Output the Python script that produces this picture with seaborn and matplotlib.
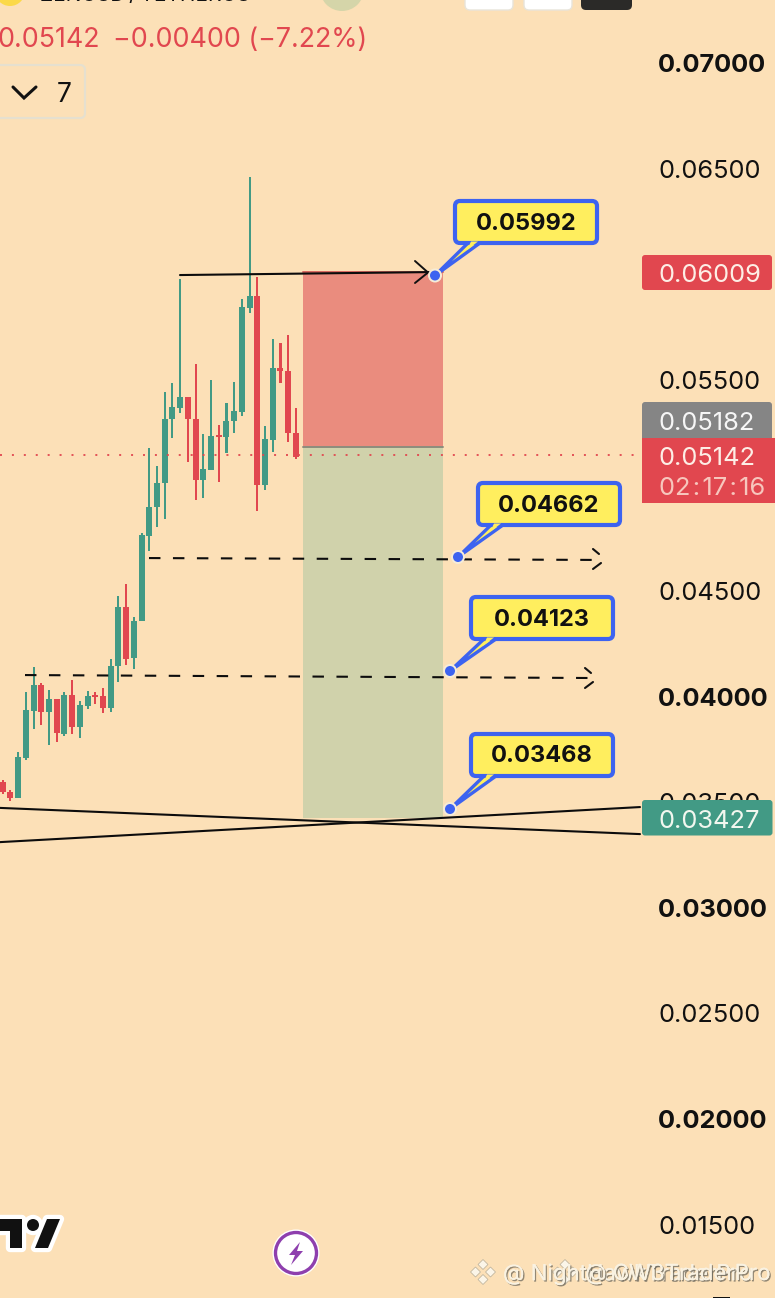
import numpy as np
import pandas as pd
import matplotlib
matplotlib.use("Agg")
import matplotlib.pyplot as plt
import matplotlib.patheffects as pe
from matplotlib.patches import Rectangle, FancyBboxPatch, Polygon, Circle
import seaborn as sns

# ---------- data (prices) ----------
highs = [.03605,.03558,.03739,.04020,.04139,.04063,.04030,.03989,.04020,.04077,.03979,.04025,.04023,.04039,.04178,.04478,.04535,.04378,.04776,
         .05176,.05092,.05441,.05483,.05976,.05419,.05576,.05243,.05498,.05285,.05390,.05490,.05883,.06462,.05988,.05281,.05693,.05674,.05714,.05366]
tops  = [.03597,.03547,.03713,.03937,.04054,.04054,.03989,.03989,.04006,.04006,.03960,.04003,.04006,.04003,.04145,.04424,.04424,.04358,.04764,
         .04896,.05011,.05316,.05370,.05419,.05419,.05316,.05078,.05234,.05237,.05306,.05351,.05845,.05897,.05897,.05218,.05556,.05556,.05543,.05247]
bots  = [.03547,.03518,.03518,.03708,.03933,.03927,.03927,.03828,.03822,.03856,.03856,.03955,.03997,.03945,.03945,.04145,.04178,.04181,.04357,
         .04760,.04896,.05011,.05316,.05366,.05314,.05026,.05026,.05074,.05228,.05228,.05306,.05348,.05840,.05002,.05002,.05215,.05540,.05248,.05136]
lows  = [.03537,.03506,.03518,.03701,.03847,.03866,.03771,.03786,.03813,.03823,.03804,.03940,.03966,.03922,.03929,.04071,.04150,.04132,.04357,
         .04689,.04804,.04842,.05224,.05341,.05111,.04931,.04942,.05074,.05018,.05152,.05250,.05330,.05816,.04880,.04980,.05157,.05483,.05207,.05126]
is_up = [0,0,1,1,1,0,1,0,1,0,1,1,0,0,1,1,0,1,1,
         1,1,1,1,1,0,0,1,1,0,1,1,1,1,0,1,1,0,0,0]

axis_ticks = [.070,.065,.060,.055,.050,.045,.040,.035,.030,.025,.020,.015]
hidden_ticks = [.060,.050]
bold_ticks = [.070,.040,.030,.020]

last_price = 0.05142
stop_price = 0.06009
entry_price = 0.05182
target_price = 0.03427
reward_floor = 0.03425
callout_values = ["0.05992","0.04662","0.04123","0.03468"]

swing_line = dict(px=[180,430], price=[.05996,.06010])
dash_line_a = dict(px=[149,600], price=[.04656,.04647])
dash_line_b = dict(px=[25,592], price=[.04102,.04088])
trend_a = dict(px=[0,640], price=[.03473,.03349])
trend_b = dict(px=[0,640], price=[.03311,.03477])

# ---------- palette ----------
BG = "#fce0b7"; RED = "#e1474f"; GREEN = "#429a85"; GREY = "#858585"
BLUE = "#3d63f0"; YELLOW = "#ffee5e"; INK = "#111111"
RISK = "#ea8c7e"; REWARD = "#d0d2ab"
FS = 18.3

sns.set_theme(style="white")
plt.rcParams["font.family"] = ["Inter", "DejaVu Sans"]

W, H = 775, 1298
fig = plt.figure(figsize=(W/100, H/100), dpi=100, facecolor=BG)
ax = fig.add_axes([0, 0, 1, 1], facecolor=BG)

# px <-> data mapping of the price scale and bar index
PX0, PXSTEP = 2.7, 7.716
to_i = lambda px: (np.asarray(px, float) - PX0) / PXSTEP
PY70, PYPER = 63.0, 21120.0
to_price = lambda py: 0.07 - (py - PY70) / PYPER

df = pd.DataFrame(dict(i=np.arange(len(highs)), high=highs, top=tops, bot=bots, low=lows, up=is_up))
for up, color in [(1, GREEN), (0, RED)]:
    s = df[df.up == up]
    sns.barplot(x=s.i.values, y=(s.high - s.low).values, bottom=s.low.values, native_scale=True,
                color=color, saturation=1, width=0.27, errorbar=None, linewidth=0, ax=ax, zorder=3)
    sns.barplot(x=s.i.values, y=(s.top - s.bot).values, bottom=s.bot.values, native_scale=True,
                color=color, saturation=1, width=0.78, errorbar=None, linewidth=0, ax=ax, zorder=3)

# position tool
x0, x1 = to_i(303), to_i(443)
ax.add_patch(Rectangle((x0, entry_price), x1-x0, stop_price-entry_price, fc=RISK, ec="none", zorder=1))
ax.add_patch(Rectangle((x0, reward_floor), x1-x0, entry_price-reward_floor, fc=REWARD, ec="none", zorder=1))
ax.plot([x0, x1], [entry_price]*2, color="#8d8d7c", lw=1.4, zorder=2)
ax.plot([x0, x1], [stop_price]*2, color="#d9675f", lw=1.4, zorder=2)

# last price line
ax.plot(to_i([0, 642]), [last_price]*2, color=RED, lw=1.3, ls=(0, (1.1, 5.5)), zorder=4)

# drawn lines
for ln, style in [(swing_line, "-"), (trend_a, "-"), (trend_b, "-"),
                  (dash_line_a, (0, (5.5, 6))), (dash_line_b, (0, (5.5, 6)))]:
    sns.lineplot(x=to_i(ln["px"]), y=ln["price"], color="#0c0c0c", lw=1.5, linestyle=style,
                 estimator=None, sort=False, errorbar=None, ax=ax, zorder=5)

ax.set_xlim(to_i(0), to_i(W))
ax.set_ylim(to_price(H), to_price(0))
ax.set_xticks([])
ax.set_xlabel(""); ax.set_ylabel("")
for sp in ax.spines.values():
    sp.set_visible(False)
ax.yaxis.tick_right()
vis = [t for t in axis_ticks if t not in hidden_ticks]
ax.set_yticks(vis)
ax.set_yticklabels([f"{t:.5f}" for t in vis])
ax.tick_params(axis="y", length=0, pad=-84, labelsize=FS, labelcolor=INK)
for lab, t in zip(ax.get_yticklabels(), vis):
    lab.set_ha("left")
    if t in bold_ticks:
        lab.set_fontweight("bold")

# ---------- overlay in screen pixels: app chrome, badges, callouts ----------
ov = fig.add_axes([0, 0, 1, 1], facecolor="none")
ov.set_xlim(0, W); ov.set_ylim(H, 0); ov.axis("off")

def badge(x0, y0, x1, y1, color, round_=3):
    ov.add_patch(FancyBboxPatch((x0+round_, y0+round_), x1-x0-2*round_, y1-y0-2*round_,
                                boxstyle=f"round,pad={round_},rounding_size={round_}", fc=color, ec="none", zorder=3))

TX = 659
badge(642, 255, 772, 290, RED)
ov.text(TX, 273, f"{0.06009:.5f}", color="#fdeee6", fontsize=FS, va="center_baseline", zorder=4)
badge(642, 402, 772, 442, GREY)
ov.text(TX, 421, f"{entry_price:.5f}", color="#f6f6f6", fontsize=FS, va="center_baseline", zorder=4)
ov.add_patch(Rectangle((642, 438), 133, 65, fc=RED, ec="none", zorder=3.5))
ov.text(TX, 456, f"{last_price:.5f}", color="#fdeee6", fontsize=FS, va="center_baseline", zorder=4)
ov.text(TX, 486, "02\u200a:\u200a17\u200a:\u200a16", color="#f7c6bd", fontsize=FS, va="center_baseline", zorder=4)
badge(642, 800, 772.5, 835.5, GREEN)
ov.text(TX, 819, f"{target_price:.5f}", color="#f2f7ef", fontsize=FS, va="center_baseline", zorder=4)

# header
ov.text(-3, 37, "0.05142", color=RED, fontsize=19.3, va="center_baseline")
ov.text(113, 37, "\u22120.00400 (\u22127.22%)", color=RED, fontsize=19.3, va="center_baseline")
ov.add_patch(FancyBboxPatch((-20, 65), 105, 53, boxstyle="round,pad=0,rounding_size=5", fc=BG, ec="#e6e0cf", lw=1.6))
ov.plot([13, 24, 36], [87, 98, 87], color=INK, lw=2.2, solid_capstyle="round", solid_joinstyle="miter")
ov.text(57, 92, "7", color=INK, fontsize=19, va="center_baseline")

# cropped top strip
ov.add_patch(Circle((10, -9), 15, fc="#fbd949", ec="none"))
ov.add_patch(Circle((342, -11), 22, fc="#d5d5a9", ec="none"))
ov.text(40, 1, "ZENUSD\u2009/\u2009TETHERUS", color=INK, fontsize=15, va="baseline")
ov.add_patch(FancyBboxPatch((465, -20), 48, 30, boxstyle="round,pad=0,rounding_size=5", fc="white", ec="#e8e4da", lw=1))
ov.add_patch(FancyBboxPatch((524, -20), 48, 30, boxstyle="round,pad=0,rounding_size=5", fc="white", ec="#e8e4da", lw=1))
ov.add_patch(FancyBboxPatch((581, -20), 51, 30, boxstyle="round,pad=0,rounding_size=5", fc="#2b2a28", ec="none"))

# arrow heads
ov.plot([415, 428, 415], [261, 272.5, 283], color="#111111", lw=1.4, zorder=3)
for tip_x, tip_y in [(602, 559), (594, 678)]:
    ov.plot([tip_x-9, tip_x-3], [tip_y-10, tip_y-5], color="#111111", lw=1.5)
    ov.plot([tip_x-9, tip_x-1], [tip_y+10, tip_y+4], color="#111111", lw=1.5)

# callouts
def callout(label, left, top, dot):
    right, bottom = left + 146, top + 46
    ov.add_patch(Polygon([dot, (left+15, bottom-2), (left+27, bottom-2)], closed=True, fc=YELLOW, ec=BLUE, lw=2.4, zorder=6, joinstyle="round"))
    ov.add_patch(FancyBboxPatch((left+2, top+2), 142, 42, boxstyle="round,pad=0,rounding_size=5", fc=YELLOW, ec=BLUE, lw=3, zorder=7))
    ov.add_patch(Polygon([(left+18, bottom-3.5), (left+25, bottom-3.5), (left+14, bottom+5)], closed=True, fc=YELLOW, ec="none", zorder=8))
    ov.add_patch(Circle(dot, 7, fc="#f6ecd8", ec="none", zorder=8))
    ov.add_patch(Circle(dot, 5, fc=BLUE, ec="none", zorder=9))
    ov.text((left+right)/2, top+22, label, color=INK, fontsize=17, fontweight="bold", ha="center", va="center_baseline", zorder=9)

callout(callout_values[0], 453, 199, (435, 275.5))
callout(callout_values[1], 476, 481, (458, 557))
callout(callout_values[2], 469, 595, (450, 671))
callout(callout_values[3], 469, 732, (450, 809))

# TV logo
def logo_parts():
    return [Polygon([(-5, 1219), (22, 1219), (22, 1248), (10, 1248), (10, 1231), (-5, 1231)], closed=True),
            Polygon([(47, 1219), (60, 1219), (48, 1248), (35, 1248)], closed=True),
            Circle((33, 1225), 6)]
for p in logo_parts():
    p.set(fc="white", ec="white", lw=6, joinstyle="round", zorder=3)
    ov.add_patch(p)
for p in logo_parts():
    p.set(fc="#111111", ec="none", zorder=4)
    ov.add_patch(p)

# bolt icon
ov.add_patch(Circle((296, 1253), 23.5, fc="white", ec="none"))
ov.add_patch(Circle((296, 1253), 20.5, fc="white", ec="#8e3fae", lw=2.4))
ov.add_patch(Polygon([(300, 1242), (289, 1255), (295, 1255), (291, 1265), (303, 1251), (297, 1251)], closed=True, fc="#8e3fae", ec="none"))

# watermark
for cx in (483, 565):
    for dx, dy in [(0, -7.5), (-7.5, 0), (7.5, 0), (0, 7.5)]:
        ov.add_patch(Polygon([(cx+dx, 1272+dy-5), (cx+dx+5, 1272+dy), (cx+dx, 1272+dy+5), (cx+dx-5, 1272+dy)],
                             closed=True, fc="#fbf5e8", ec="#b9af98", lw=0.5, zorder=5))
for xpos, text in [(503, "@ NightHawkTraderPro"), (585, "@ CW3TraderPro")]:
    ov.text(xpos, 1272, text, color="#f9f2e2", fontsize=16, va="center_baseline", zorder=6,
            path_effects=[pe.withSimplePatchShadow(offset=(1, -1), shadow_rgbFace="#6f6a5e", alpha=0.75), pe.Normal()])
ov.add_patch(Rectangle((713, 1296.5), 17, 2, fc="#111111", ec="none"))

fig.savefig("out.png", dpi=100, facecolor=BG)
